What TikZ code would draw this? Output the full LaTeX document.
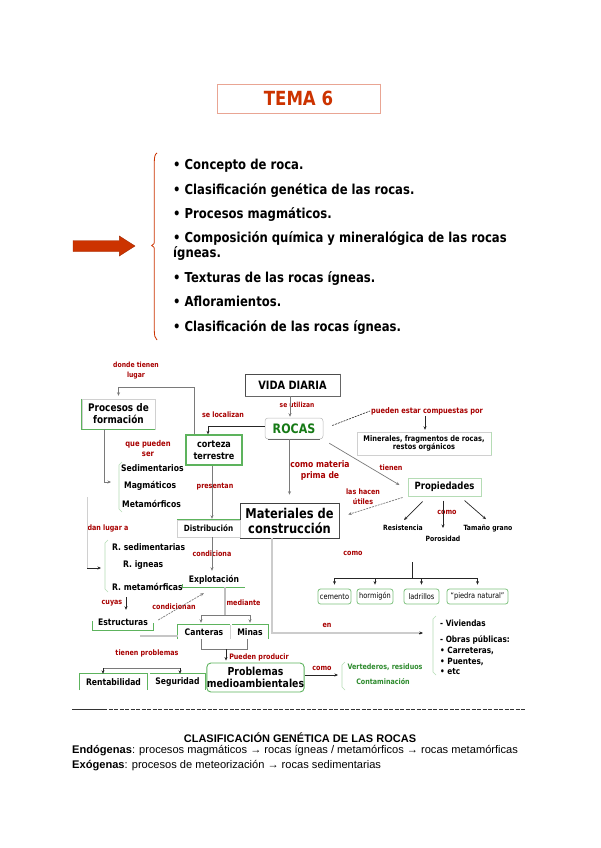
\documentclass[tikz,border=0pt]{standalone}
\usepackage{fontspec}
\setmainfont{Liberation Sans}
\newfontfamily\tah[FakeStretch=0.85]{DejaVu Sans}
\usetikzlibrary{arrows.meta,calc}
\definecolor{temared}{HTML}{CC3300}
\definecolor{temaedge}{HTML}{E9A593}
\definecolor{labred}{HTML}{A80000}
\definecolor{rgreen}{HTML}{167A16}
\definecolor{bgreen}{HTML}{5DB35D}
\definecolor{lgreen}{HTML}{B5DCB5}
\definecolor{lgray}{HTML}{D0D0D0}
\definecolor{cgray}{HTML}{7A7A7A}
\definecolor{tgreen}{HTML}{2E8B2E}
\newcommand{\mff}[2]{\tah\bfseries\fontsize{#1}{#2}\selectfont}
\tikzset{
  item/.style={anchor=base west, inner sep=0pt, font=\mff{13.7}{15}},
  lbl/.style={inner sep=0pt, align=center, text=labred},
  txt/.style={inner sep=0pt, anchor=west},
  box/.style={inner sep=0pt, align=center},
  ge/.style={draw=bgreen, line width=1pt},
  conn/.style={draw=cgray, line width=0.7pt},
  connk/.style={draw=black!85, line width=0.7pt},
  arr/.style={conn, -{Stealth[length=3.5pt,width=3pt]}},
  arrk/.style={connk, -{Stealth[length=3.5pt,width=3pt]}},
  brk/.style={draw=lgreen, line width=0.6pt},
}
\begin{document}
\begin{tikzpicture}[x=1pt,y=-1pt]
\useasboundingbox (0,0) rectangle (600,848);
\fill[white] (0,0) rectangle (600,848);

% ---------- header ----------
\node[box, draw=temaedge, line width=0.6pt, minimum width=163pt, minimum height=29pt,
      font=\mff{19.5}{22}, text=temared] (tema) at (298.5,98.5) {TEMA 6};
\draw[temaedge, line width=1.2pt] (tema.north east) -- (tema.south east) -- (tema.south west);

\node[item] (l1) at (173,169) {• Concepto de roca.};
\node[item] (l2) at (173,194) {• Clasificación genética de las rocas.};
\node[item] (l3) at (173,218) {• Procesos magmáticos.};
\node[item] (l4) at (173,242) {• Composición química y mineralógica de las rocas};
\node[item] (l4b) at (173,257) {ígneas.};
\node[item] (l5) at (173,282) {• Texturas de las rocas ígneas.};
\node[item] (l6) at (173,306) {• Afloramientos.};
\node[item] (l7) at (173,331) {• Clasificación de las rocas ígneas.};

\fill[temared, draw=temared!80!black, line width=0.4pt]
  (73,240.5) -- (119.3,240.5) -- (119.3,236) -- (135,246) -- (119.3,256) -- (119.3,251.5) -- (73,251.5) -- cycle;
\draw[temared, line width=0.8pt] (157,153) .. controls (155,154) and (154.3,157) .. (154.3,162)
  -- (154.3,240) .. controls (154.3,244) .. (151.7,245.5) .. controls (154.3,247) .. (154.3,251)
  -- (154.3,330) .. controls (154.3,336) and (155,338) .. (157,340);

% ---------- concept map: boxes ----------
\node[box, draw=lgray, line width=0.4pt, minimum width=73pt, minimum height=30pt, font=\mff{10.5}{12}] (proc) at (118.5,414) {Procesos de\\formación};
\draw[ge] (proc.north west) -- (proc.south west) -- (proc.south east);

\node[box, draw=bgreen, line width=1.3pt, minimum width=56pt, minimum height=30pt, font=\mff{9.5}{12}] (cort) at (214,450) {corteza\\terrestre};

\node[box, draw=black!70, line width=0.6pt, minimum width=95pt, minimum height=22pt, font=\mff{11.5}{13}] (vida) at (292.5,385) {VIDA DIARIA};
\draw[black!60, line width=1.2pt] (vida.north east) -- (vida.south east) -- (vida.south west);

\node[box, draw=gray!55, line width=0.5pt, rounded corners=3pt, minimum width=58pt, minimum height=21pt, font=\mff{13}{15}, text=rgreen] (rocas) at (294,428.5) {ROCAS};
\draw[black!60, line width=0.8pt] ($(rocas.south west)+(3,0)$) -- ($(rocas.south east)+(-3,0)$);

\node[box, draw=lgray, line width=0.4pt, minimum width=134pt, minimum height=23pt, font=\mff{7.8}{8.7}] (miner) at (424,443.5) {Minerales, fragmentos de rocas,\\restos orgánicos};
\draw[draw=lgreen, line width=1pt] (miner.north east) -- (miner.south east);

\node[box, draw=lgreen, line width=1pt, minimum width=73pt, minimum height=18pt, font=\mff{10}{12}] (prop) at (444.5,487) {Propiedades};

\node[box, draw=black!75, line width=0.6pt, minimum width=99pt, minimum height=35pt, font=\mff{13.5}{15}] (mat) at (289.5,520.5) {Materiales de\\construcción};
\draw[black!70, line width=1.5pt] (mat.north east) -- (mat.south east);

\node[box, draw=lgray, line width=0.4pt, minimum width=63pt, minimum height=17pt, font=\mff{8.5}{10}] (distr) at (208.5,528.5) {Distribución};
\draw[ge] (distr.north west) -- (distr.north east);

\node[box, minimum width=62pt, minimum height=15pt, font=\mff{9}{11}] (explo) at (214,579.5) {Explotación};
\draw[ge] ($(explo.south west)+(0,-3)$) -- (explo.south west) -- (explo.south east);

\node[box, minimum width=60pt, minimum height=16pt, font=\mff{9}{11}] (estr) at (123,622) {Estructuras};
\draw[ge] ($(estr.south west)+(0,-9)$) -- (estr.south west) -- (estr.south east) -- ($(estr.south east)+(0,-7)$);

\node[box, minimum width=52pt, minimum height=14pt, font=\mff{9}{11}] (cant) at (204,632) {Canteras};
\draw[ge] (cant.south west) -- (cant.north west) -- (cant.north east);
\draw[lgray, line width=0.8pt] (cant.north east) -- (cant.south east);

\node[box, minimum width=36pt, minimum height=14pt, font=\mff{9}{11}] (minas) at (250,632) {Minas};
\draw[ge] (minas.north west) -- (minas.north east) -- (minas.south east);

\node[box, draw=bgreen, line width=0.9pt, rounded corners=4pt, minimum width=93pt, minimum height=29pt, font=\mff{11}{12}] (prob) at (255.5,677.5) {Problemas\\medioambientales};

\node[box, minimum width=67pt, minimum height=16pt, font=\mff{9}{11}] (rent) at (113.5,682) {Rentabilidad};
\draw[ge] (rent.south west) -- (rent.north west) -- (rent.north east) -- (rent.south east);
\node[box, minimum width=55pt, minimum height=16pt, font=\mff{9}{11}] (segu) at (177.5,682) {Seguridad};
\draw[ge] (segu.north west) -- (segu.north east) -- (segu.south east);

\tikzset{mbox/.style={box, draw=bgreen!80, line width=0.8pt, rounded corners=2.5pt, minimum height=15pt, font=\tah\fontsize{7.8}{9}\selectfont}}
\node[mbox, minimum width=33pt] (cem) at (334.5,596.5) {cemento};
\node[mbox, minimum width=36pt] (horm) at (375,596.5) {hormigón};
\node[mbox, minimum width=35pt] (lad) at (421.5,596.5) {ladrillos};
\node[mbox, minimum width=61pt] (pied) at (477.5,596.5) {“piedra natural”};

% ---------- plain texts ----------
\node[txt, font=\mff{9}{11}] (sedi) at (121,468) {Sedimentarios};
\node[txt, font=\mff{9}{11}] (magm) at (124,486) {Magmáticos};
\node[txt, font=\mff{9}{11}] (meta) at (122,504) {Metamórficos};
\node[txt, font=\mff{9}{11}] (rsed) at (112,547) {R. sedimentarias};
\node[txt, font=\mff{9}{11}] (rign) at (123,565) {R. igneas};
\node[txt, font=\mff{9}{11}] (rmet) at (112,587) {R. metamórficas};
\node[box, font=\mff{7.2}{9}] (resist) at (403,528) {Resistencia};
\node[box, font=\mff{7.2}{9}] (poros) at (443,539) {Porosidad};
\node[box, font=\mff{7.2}{9}] (tam) at (488,528) {Tamaño grano};
\node[txt, font=\mff{8.6}{10}] (v1) at (440,623) {- Viviendas};
\node[txt, font=\mff{8.6}{10}] (v2) at (440,640) {- Obras públicas:};
\node[txt, font=\mff{8.6}{10}] (v3) at (440,651) {• Carreteras,};
\node[txt, font=\mff{8.6}{10}] (v4) at (440,662) {• Puentes,};
\node[txt, font=\mff{8.6}{10}] (v5) at (440,672) {• etc};
\node[box, font=\mff{7.5}{9}, text=tgreen] (vert) at (385,667) {Vertederos, residuos};
\node[box, font=\mff{7.5}{9}, text=tgreen] (cont) at (383,682) {Contaminación};

% ---------- labels ----------
\node[lbl, font=\mff{7.2}{9.5}] (dtl) at (136,370.5) {donde tienen\\lugar};
\node[lbl, font=\mff{7.5}{9}] (seloc) at (223,415) {se localizan};
\node[lbl, font=\mff{7}{9}] (seutil) at (297,405) {se utilizan};
\node[lbl, font=\mff{7.8}{9}] (pec) at (427,411) {pueden estar compuestas por};
\node[lbl, font=\mff{9}{11}] (cmp) at (320,470.5) {como materia\\prima de};
\node[lbl, font=\mff{7.5}{9}] (tien) at (391,468) {tienen};
\node[lbl, font=\mff{7.5}{10}] (lhu) at (363,497) {las hacen\\útiles};
\node[lbl, font=\mff{7.5}{9}] (comoA) at (447,512) {como};
\node[lbl, font=\mff{8}{10}] (qps) at (148,449) {que pueden\\ser};
\node[lbl, font=\mff{7.5}{9}] (pres) at (215,487) {presentan};
\node[lbl, font=\mff{7.5}{9}] (dla) at (108,528) {dan lugar a};
\node[lbl, font=\mff{7.5}{9}] (cond) at (212,554) {condiciona};
\node[lbl, font=\mff{7.5}{9}] (cuy) at (112,603) {cuyas};
\node[lbl, font=\mff{7.5}{9}] (condn) at (174,607) {condicionan};
\node[lbl, font=\mff{7.5}{9}] (med) at (243.5,603) {mediante};
\node[lbl, font=\mff{7.5}{9}] (tprob) at (147,653) {tienen problemas};
\node[lbl, font=\mff{7.5}{9}] (pprod) at (259,657) {Pueden producir};
\node[lbl, font=\mff{7.5}{9}] (comoB) at (322,668) {como};
\node[lbl, font=\mff{7.5}{9}] (comoC) at (353,553) {como};
\node[lbl, font=\mff{7.5}{9}] (en) at (327,625) {en};

% ---------- brackets ----------
\draw[brk] (122,462) -- (119,465) -- (119,509) -- (122,512);
\draw[brk] (108,540) -- (105,543) -- (105,589) -- (108,592);
\draw[brk] (436,616) -- (433,619) -- (433,672) -- (436,675);
\draw[brk] (345,662) -- (342,665) -- (342,687) -- (345,690);

% ---------- connectors ----------
\coordinate (k1) at (194,387);
\draw[arr, shorten >=3pt] (cort.north -| k1) -- (k1) -| (proc.north);
\coordinate (k2) at (208,426);
\draw[arrk] (rocas.west |- k2) -- (k2) -- (cort.north -| k2);
\draw[arr, shorten >=1pt] ($(vida.south)+(-2.5,0)$) -- ($(rocas.north)+(-4,0)$);
\draw[connk, dash pattern=on 2pt off 1pt, line width=0.6pt] ($(rocas.east)+(9,-3)$) -- ($(pec.west)+(-1,0)$);
\draw[arrk, shorten >=2pt] ($(pec.south)+(-2,1)$) -- ($(miner.north)+(1,0)$);
\draw[arr] ($(rocas.south east)+(6,4)$) -- ($(prop.west)+(-8,-2)$);
\draw[arr, shorten >=8pt] (rocas.south -| mat.north) -- (mat.north);
\draw[arr, dash pattern=on 2pt off 1pt] ($(prop.south west)+(-5,1)$) -- ($(mat.east)+(9,-6)$);
\draw[arrk] ($(prop.south)+(-22,5)$) -- ($(resist.north)+(1,-5)$);
\draw[arrk] ($(prop.south)+(-1.5,4)$) -- ($(poros.north)+(0,-8)$);
\draw[arrk] ($(prop.south)+(20,4)$) -- ($(tam.north)+(-2,-5)$);

\coordinate (k3) at (212,0);
\draw[arr, shorten >=1pt] (cort.south -| k3) -- (distr.north -| k3);
\coordinate (x104) at (104,0);
\coordinate (g1) at (111,482);
\draw[arr] (proc.south -| x104) |- (g1);
\coordinate (g2a) at (87,497);
\coordinate (g2) at (101,568);
\draw[draw=lgray, line width=0.6pt] (g2a) -- (g2a |- g2);
\draw[arrk] (g2a |- g2) -- (g2);
\draw[arr, shorten >=1pt] (distr.south -| k3) -- (explo.north -| k3);
\coordinate (cy1) at (126,597);
\draw[arrk, shorten >=4pt] (cy1) -- (estr.north -| cy1);
\draw[arr, dash pattern=on 2pt off 1pt] ($(estr.east)+(5,-2)$) -- ($(explo.south west)+(21,6)$);

\coordinate (t1) at (225,615);
\coordinate (x201) at (201,0);
\coordinate (x250) at (250,0);
\draw[draw=gray!50, line width=1.4pt] (explo.south -| t1) -- (t1);
\draw[arr, shorten >=2pt] (t1) -| (x201 |- cant.north);
\draw[arr, shorten >=2pt] (t1) -| (x250 |- minas.north);
\coordinate (s1) at (140,636);
\draw[draw=gray!45, line width=1.5pt] (s1) -- (cant.west |- s1);
\coordinate (b1) at (201,649);
\coordinate (b2) at (247,649);
\coordinate (bm) at (226,649);
\draw[conn] (b1 |- cant.south) -- (b1) -- (b2) -- (b2 |- minas.south);
\draw[arrk, shorten >=2pt] (bm) -- (bm |- prob.north);
\coordinate (r1) at (103,668);
\coordinate (r2) at (180,668);
\draw[conn] (r1) -- (r2);
\draw[arrk] (r1) -- (r1 |- rent.north);
\draw[arrk] (r2) -- (r2 |- segu.north);
\coordinate (g3) at (338,675);
\draw[arrk] (prob.east |- g3) -- (g3);
\coordinate (x272) at (272,0);
\coordinate (g4) at (423,633);
\draw[draw=gray!40, line width=1.2pt] (x272 |- mat.south) |- ($(g4)+(-3,0)$);
\draw[arrk] ($(g4)+(-4,0)$) -- (g4);
\coordinate (tr) at (412,562);
\coordinate (tr2) at (412,578);
\draw[connk] (tr) -- (tr2);
\draw[connk] (cem.north |- tr2) -- (pied.north |- tr2);
\foreach \n in {cem,horm,lad,pied} \draw[arrk, shorten >=4pt] (\n.north |- tr2) -- (\n.north);

% ---------- bottom ----------
\draw[black!80, line width=0.7pt] (72,709.5) -- (103,709.5);
\draw[black!80, line width=0.8pt, dash pattern=on 4pt off 1.5pt] (103,709.5) -- (525,709.5);
\node[inner sep=0pt, font=\bfseries\fontsize{11}{12}\selectfont] (clas) at (300,738) {CLASIFICACIÓN GENÉTICA DE LAS ROCAS};
\node[inner sep=0pt, anchor=west, font=\fontsize{11.1}{12}\selectfont] (endo) at (72,751) {\textbf{Endógenas}: procesos magmáticos → rocas ígneas / metamórficos → rocas metamórficas};
\node[inner sep=0pt, anchor=west, font=\fontsize{11.1}{12}\selectfont] (exo) at (72,766) {\textbf{Exógenas}: procesos de meteorización → rocas sedimentarias};
\end{tikzpicture}
\end{document}
